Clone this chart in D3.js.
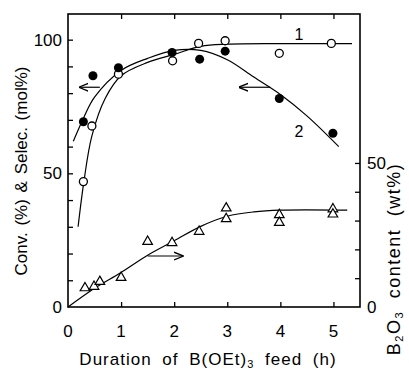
<!DOCTYPE html>
<html>
<head>
<meta charset="utf-8" />
<script src="https://d3js.org/d3.v7.min.js"></script>
<style>
body { margin: 0; background: #fff; }
text { font-family: "Liberation Sans", "DejaVu Sans", sans-serif; fill: #000; }
</style>
</head>
<body>
<div id="viz"></div>
<script>
// values
var xTicks = [0, 1, 2, 3, 4, 5];
var leftTicks = [0, 10, 20, 30, 40, 50, 60, 70, 80, 90, 100];
var leftLabels = [0, 50, 100];
var rightTicks = [0, 10, 20, 30, 40, 50];
var rightLabels = [0, 50];

// selectivity (open circles), curve 1
var selX = [0.29, 0.45, 0.95, 1.97, 2.46, 2.96, 3.98, 4.96];
var selY = [46.9, 67.7, 87.1, 92.1, 98.6, 99.6, 94.9, 98.6];
var curve1X = [0.19, 0.3, 0.45, 0.7, 1.0, 1.5, 2.0, 2.5, 3.0, 4.0, 5.35];
var curve1Y = [30, 47, 64, 78, 86.5, 91.5, 94.5, 97.5, 98.3, 98.5, 98.5];

// conversion (filled circles), curve 2
var convX = [0.29, 0.47, 0.95, 1.96, 2.48, 2.96, 3.98, 4.99];
var convY = [69.3, 86.5, 89.5, 95.2, 92.7, 95.7, 78, 65];
var curve2X = [0.1, 0.3, 0.5, 1.0, 1.5, 2.0, 2.5, 3.0, 3.5, 4.0, 4.5, 5.1];
var curve2Y = [62, 71, 78.5, 88.5, 93, 96, 96, 92.5, 86, 79.5, 71.5, 60];

// B2O3 content (triangles), right axis
var boX = [0.32, 0.49, 0.6, 1.0, 1.5, 1.96, 2.47, 2.98, 2.98, 3.98, 3.98, 4.99, 4.99];
var boY = [6.6, 7.1, 8.8, 10.2, 22.7, 22.3, 26.2, 34.3, 30.6, 32, 29.3, 34, 32.2];
var curve3X = [0, 0.5, 1.0, 1.5, 2.0, 2.5, 3.0, 3.5, 4.0, 5.26];
var curve3Y = [0, 6.5, 12, 18, 23, 28, 31.5, 33, 33.6, 33.6];

var W = 409, H = 371;
var svg = d3.select("#viz").append("svg")
    .attr("width", W)
    .attr("height", H);

var x = d3.scaleLinear().domain([0, 5.5]).range([68, 360]),
    yL = d3.scaleLinear().domain([0, 109.6]).range([307, 14]),
    yR = d3.scaleLinear().domain([0, 101.7]).range([307, 14]);

var x0 = x.range()[0], x1 = x.range()[1], yTop = yL.range()[1], yBot = yL.range()[0];

// frame
svg.append("rect")
    .attr("x", x0).attr("y", yTop)
    .attr("width", x1 - x0).attr("height", yBot - yTop)
    .attr("fill", "none").attr("stroke", "#000").attr("stroke-width", 1.6);

// axes with inward ticks
svg.append("g")
    .attr("transform", "translate(0," + yBot + ")")
    .call(d3.axisTop(x).tickValues(xTicks.slice(1)).tickSize(5).tickFormat(""))
    .call(function(g) { g.select(".domain").remove(); });
svg.append("g")
    .attr("transform", "translate(0," + yTop + ")")
    .call(d3.axisBottom(x).tickValues(xTicks.slice(1)).tickSize(5).tickFormat(""))
    .call(function(g) { g.select(".domain").remove(); });
svg.append("g")
    .attr("transform", "translate(" + x0 + ",0)")
    .call(d3.axisRight(yL).tickValues(leftTicks.slice(1)).tickSize(5).tickFormat(""))
    .call(function(g) { g.select(".domain").remove(); });
svg.append("g")
    .attr("transform", "translate(" + x1 + ",0)")
    .call(d3.axisLeft(yR).tickValues(rightTicks.slice(1)).tickSize(5).tickFormat(""))
    .call(function(g) { g.select(".domain").remove(); });
svg.selectAll(".tick line").attr("stroke-width", 1.3);

// tick labels
svg.selectAll(".xlab").data(xTicks).enter().append("text")
    .attr("x", function(d) { return x(d); })
    .attr("y", 337)
    .attr("text-anchor", "middle")
    .attr("font-size", 17)
    .text(function(d) { return d; });
svg.selectAll(".llab").data(leftLabels).enter().append("text")
    .attr("x", 62)
    .attr("y", function(d) { return yL(d) + 6; })
    .attr("text-anchor", "end")
    .attr("font-size", 17)
    .text(function(d) { return d; });
svg.selectAll(".rlab").data(rightLabels).enter().append("text")
    .attr("x", 367)
    .attr("y", function(d) { return yR(d) + 6; })
    .attr("text-anchor", "start")
    .attr("font-size", 17)
    .text(function(d) { return d; });

// axis titles
svg.append("text")
    .attr("transform", "translate(27,171) rotate(-90)")
    .attr("text-anchor", "middle")
    .attr("font-size", 17)
    .attr("word-spacing", 2)
    .text("Conv. (%) & Selec. (mol%)");
var rt = svg.append("text")
    .attr("transform", "translate(400,259) rotate(-90)")
    .attr("text-anchor", "middle")
    .attr("font-size", 18)
    .attr("letter-spacing", 1.5)
    .attr("word-spacing", 6);
rt.append("tspan").text("B");
rt.append("tspan").attr("font-size", 11).attr("dy", 3).text("2");
rt.append("tspan").attr("dy", -3).text("O");
rt.append("tspan").attr("font-size", 11).attr("dy", 3).text("3");
rt.append("tspan").attr("dy", -3).text(" content (wt%)");
var bt = svg.append("text")
    .attr("x", 208).attr("y", 365)
    .attr("text-anchor", "middle")
    .attr("font-size", 17)
    .attr("letter-spacing", 1)
    .attr("word-spacing", 5);
bt.append("tspan").text("Duration of B(OEt)");
bt.append("tspan").attr("font-size", 11).attr("dy", 3).text("3");
bt.append("tspan").attr("dy", -3).text(" feed (h)");

// curves
var line = d3.line().curve(d3.curveCatmullRom);
function pts(xs, ys, sy) { return xs.map(function(v, i) { return [x(v), sy(ys[i])]; }); }

svg.append("path").attr("d", line(pts(curve1X, curve1Y, yL)))
    .attr("fill", "none").attr("stroke", "#000").attr("stroke-width", 1.2);
svg.append("path").attr("d", line(pts(curve2X, curve2Y, yL)))
    .attr("fill", "none").attr("stroke", "#000").attr("stroke-width", 1.2);
svg.append("path").attr("d", line(pts(curve3X, curve3Y, yR)))
    .attr("fill", "none").attr("stroke", "#000").attr("stroke-width", 1.2);

// markers
svg.selectAll(".sel").data(selX).enter().append("circle")
    .attr("cx", function(d) { return x(d); })
    .attr("cy", function(d, i) { return yL(selY[i]); })
    .attr("r", 4)
    .attr("fill", "#fff").attr("stroke", "#000").attr("stroke-width", 1.3);
svg.selectAll(".conv").data(convX).enter().append("circle")
    .attr("cx", function(d) { return x(d); })
    .attr("cy", function(d, i) { return yL(convY[i]); })
    .attr("r", 4.5)
    .attr("fill", "#000");
var tri = d3.symbol().type(d3.symbolTriangle).size(40);
svg.selectAll(".bo").data(boX).enter().append("path")
    .attr("d", tri)
    .attr("transform", function(d, i) { return "translate(" + x(d) + "," + yR(boY[i]) + ")"; })
    .attr("fill", "#fff").attr("stroke", "#000").attr("stroke-width", 1.2);

// arrows pointing to the axis each curve uses
svg.append("defs").append("marker")
    .attr("id", "ah").attr("viewBox", "0 0 10 10")
    .attr("refX", 9).attr("refY", 5)
    .attr("markerWidth", 8).attr("markerHeight", 8)
    .attr("orient", "auto")
  .append("path").attr("d", "M0,1 L10,5 L0,9").attr("fill", "none").attr("stroke", "#000").attr("stroke-width", 1.4);
var arrows = [
  [0.6, 82.2, 0.22, 82.2, yL],
  [3.81, 82.2, 3.23, 82.2, yL],
  [1.5, 17.7, 2.16, 17.7, yR]
];
arrows.forEach(function(a) {
  svg.append("line")
      .attr("x1", x(a[0])).attr("y1", a[4](a[1]))
      .attr("x2", x(a[2])).attr("y2", a[4](a[3]))
      .attr("stroke", "#000").attr("stroke-width", 1.2)
      .attr("marker-end", "url(#ah)");
});

// curve numbers
svg.append("text").attr("x", 299).attr("y", 40).attr("text-anchor", "middle")
    .attr("font-size", 16).text("1");
svg.append("text").attr("x", 299).attr("y", 137).attr("text-anchor", "middle")
    .attr("font-size", 16).text("2");
</script>
</body>
</html>
